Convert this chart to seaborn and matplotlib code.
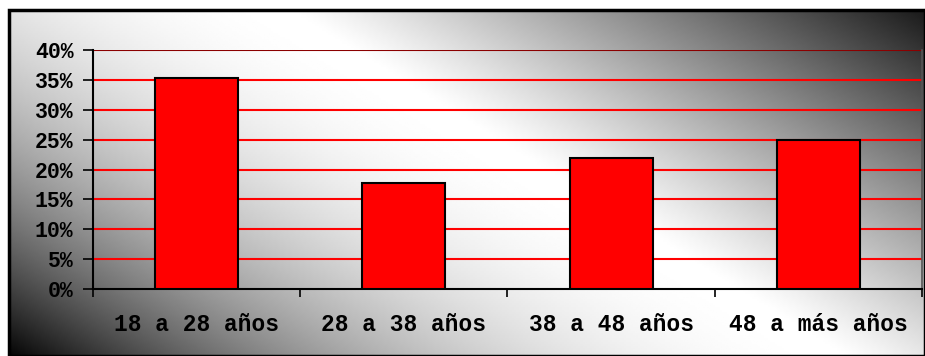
import numpy as np
import pandas as pd
import seaborn as sns
import matplotlib.pyplot as plt
from matplotlib.patches import Rectangle

# datos del grafico
categorias = ['18 a 28 años', '28 a 38 años', '38 a 48 años', '48 a más años']
porcentajes = [35.3, 17.8, 22.0, 25.0]
ticks_y = [0, 5, 10, 15, 20, 25, 30, 35, 40]

df = pd.DataFrame({'edad': categorias, 'pct': porcentajes})

sns.set_style("white")
plt.rcParams['font.family'] = ['Liberation Mono', 'DejaVu Sans Mono']
plt.rcParams['font.weight'] = 'bold'

W, H = 925, 356
fig = plt.figure(figsize=(W / 100, H / 100), dpi=100)

# fondo degradado diagonal (oscuro en las esquinas abajo-izq y arriba-der)
bg = fig.add_axes([9 / W, 0, 1 - 9 / W, 1 - 10 / H])
xs = np.linspace(9, W, 400)
ys = np.linspace(10, H, 160)
X, Y = np.meshgrid(xs, ys)
k = 1.6
t = (X + k * (H - Y)) / (W + k * H)
c = 0.565
izq = 1 - (1 - np.clip(t / c, 0, 1)) ** 2
der = 1 - 0.92 * np.clip((t - c) / (1 - c), 0, 1) ** 1.1
brillo = np.where(t < c, izq, der)
bg.imshow(brillo, cmap='gray', vmin=0, vmax=1, aspect='auto',
          extent=[0, 1, 0, 1], interpolation='bilinear')
bg.set_xlim(0, 1)
bg.set_ylim(0, 1)
bg.axis('off')
bg.add_patch(Rectangle((0, 0), 1, 1, fill=False, ec='black', lw=2.5,
                       transform=bg.transAxes, clip_on=False))

ax = fig.add_axes([93 / W, 1 - 289 / H, (922 - 93) / W, (289 - 50) / H])
ax.patch.set_alpha(0)
sns.barplot(data=df, x='edad', y='pct', color='#ff0000', saturation=1,
            width=0.4, edgecolor='black', linewidth=1.5, ax=ax, zorder=3)

ax.set_ylim(0, 40)
ax.set_xlim(-0.5, 3.5)
ax.set_yticks(ticks_y)
ax.set_yticklabels([f'{v}%' for v in ticks_y], fontsize=15.5,
                   fontweight='bold', color='black')
for v in ticks_y[1:]:
    ax.axhline(v, color='#ff0000' if v < 40 else '#8b0000', lw=1.5, zorder=1)

ax.set_xticks(range(len(categorias)))
ax.set_xticklabels(categorias, fontsize=16.5, fontweight='bold', color='black')
ax.set_xticks(np.arange(-0.5, 4, 1), minor=True)
ax.tick_params(axis='x', which='major', bottom=False, length=0, pad=17)
ax.tick_params(axis='x', which='minor', bottom=True, length=6, width=1.2,
               direction='out', color='black')
ax.tick_params(axis='y', left=True, length=7, width=1.2, direction='out',
               pad=7, color='black')
ax.set_xlabel('')
ax.set_ylabel('')

for s in ['left', 'bottom']:
    ax.spines[s].set_color('black')
    ax.spines[s].set_linewidth(1.5)
ax.spines['top'].set_visible(False)
ax.spines['right'].set_color('#555555')
ax.spines['right'].set_linewidth(1.2)

fig.savefig('out.png', dpi=100)
